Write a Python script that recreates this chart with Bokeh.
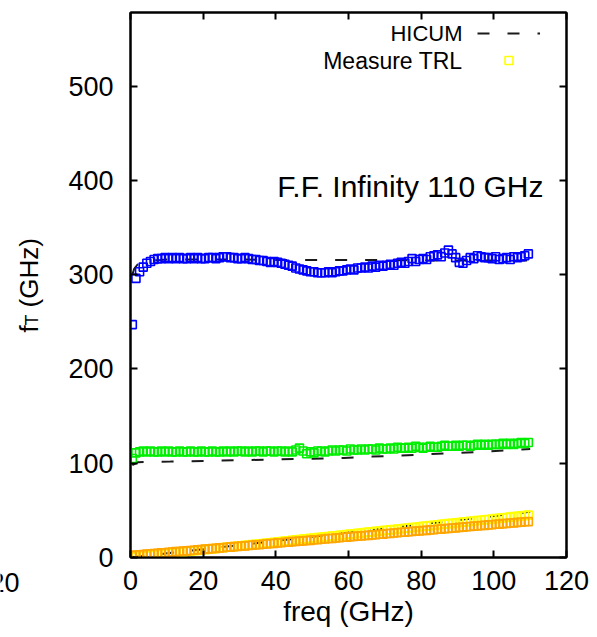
import math
from bokeh.plotting import figure
from bokeh.layouts import row
from bokeh.models import (LinearAxis, Range1d, FixedTicker, Label, Legend, LegendItem,
                          CustomJSTickFormatter)
from bokeh.embed import file_html
from bokeh.resources import INLINE

# ---------------- data ----------------
x_ticks = [0, 20, 40, 60, 80, 100, 120]
y_ticks = [0, 100, 200, 300, 400, 500]

# measurement sweep (GHz)
freq = [i + 0.5 for i in range(110)]

meas_blue = [247, 296, 303, 308, 312, 314, 316, 317, 317, 318,
             317, 318, 317, 318, 317, 317, 318, 317, 318, 317,
             317, 318, 318, 317, 318, 319, 319, 318, 318, 317,
             317, 318, 317, 316, 316, 315, 315, 314, 313, 314,
             313, 312, 311, 310, 309, 307, 306, 305, 304, 303,
             303, 302, 302, 302, 303, 302, 303, 304, 304, 305,
             306, 305, 307, 307, 308, 307, 309, 308, 310, 309,
             310, 311, 310, 312, 313, 312, 314, 317, 314, 316,
             317, 316, 319, 320, 321, 319, 323, 326, 322, 318,
             313, 312, 315, 318, 317, 320, 319, 318, 318, 317,
             319, 316, 317, 318, 316, 319, 318, 319, 320, 322]

meas_green = [105, 111, 112, 113, 112, 113, 112, 112, 113, 112,
              113, 112, 112, 113, 112, 112, 113, 112, 112, 113,
              112, 112, 113, 112, 112, 113, 112, 113, 112, 113,
              113, 112, 113, 112, 113, 113, 112, 113, 113, 112,
              113, 113, 112, 113, 112, 114, 116, 113, 110, 112,
              111, 113, 113, 112, 113, 114, 113, 114, 114, 113,
              115, 114, 114, 115, 114, 115, 115, 114, 116, 115,
              115, 116, 115, 117, 116, 116, 117, 116, 118, 117,
              116, 117, 118, 117, 117, 118, 119, 118, 118, 119,
              118, 119, 119, 118, 119, 120, 119, 120, 119, 120,
              120, 120, 121, 120, 121, 120, 121, 122, 121, 122]

meas_orange = [2.0, 2.6, 2.9, 3.1, 3.6, 3.7, 4.2, 4.4, 4.9, 5.0,
               5.6, 5.7, 6.2, 6.4, 6.9, 7.0, 7.5, 7.7, 8.2, 8.3,
               8.9, 9.0, 9.5, 9.7, 10.2, 10.3, 10.8, 11.0, 11.5, 11.6,
               12.2, 12.3, 12.8, 13.0, 13.5, 13.6, 14.1, 14.3, 14.8, 14.9,
               15.5, 15.6, 16.1, 16.3, 16.8, 16.9, 17.4, 17.6, 18.1, 18.2,
               18.8, 18.9, 19.4, 19.6, 20.1, 20.2, 20.7, 20.9, 21.4, 21.5,
               22.1, 22.2, 22.7, 22.9, 23.4, 23.5, 24.0, 24.2, 24.7, 24.8,
               25.4, 25.5, 26.0, 26.2, 26.7, 26.8, 27.3, 27.5, 28.0, 28.1,
               28.7, 28.8, 29.3, 29.5, 30.0, 30.1, 30.6, 30.8, 31.3, 31.4,
               32.0, 32.1, 32.6, 32.8, 33.3, 33.4, 33.9, 34.1, 34.6, 34.7,
               35.3, 35.4, 35.9, 36.1, 36.6, 36.7, 37.2, 37.4, 37.9, 38.1]

meas_yellow = [0.2, 0.7, 1.0, 1.5, 1.8, 2.3, 2.6, 3.1, 3.4, 3.9,
               4.3, 4.7, 5.1, 5.5, 5.9, 6.4, 6.7, 7.2, 7.5, 8.0,
               8.4, 8.8, 9.2, 9.6, 10.0, 10.5, 10.8, 11.3, 11.6, 12.1,
               12.5, 12.9, 13.3, 13.7, 14.1, 14.6, 14.9, 15.4, 15.7, 16.2,
               16.6, 17.0, 17.4, 17.8, 18.2, 18.7, 19.0, 19.5, 19.8, 20.3,
               20.7, 21.1, 21.5, 21.9, 22.3, 22.8, 23.1, 23.6, 23.9, 24.4,
               24.8, 25.2, 25.6, 26.0, 26.4, 26.9, 27.2, 27.7, 28.0, 28.5,
               28.9, 29.3, 29.7, 30.1, 30.5, 31.0, 31.3, 31.8, 32.1, 32.6,
               33.0, 33.4, 33.8, 34.2, 34.6, 35.1, 35.4, 35.9, 36.2, 36.7,
               37.1, 37.5, 37.9, 38.3, 38.7, 39.2, 39.5, 40.0, 40.3, 40.8,
               41.2, 41.6, 42.0, 42.4, 42.8, 43.3, 43.6, 44.1, 44.4, 44.9]

# HICUM simulation curves
hicum_top_f = [0.5, 1, 2, 3, 5, 8, 10, 20, 30, 40, 50, 60, 70, 80, 90, 100, 110]
hicum_top_v = [300, 306, 311, 313, 315, 315.5, 316, 316, 316, 315.5, 315.5, 315.5, 315.5, 315, 315, 315, 315]

hicum_mid_f = [0.5, 2, 5, 11, 20, 30, 40, 50, 58.7, 66.5, 74.3, 82.6, 90.3, 98.5, 106.4, 110]
hicum_mid_v = [98, 101, 101.5, 101.7, 102.4, 103.2, 104, 104.8, 105.6, 107, 108, 109.8, 110.9, 112.6, 114.4, 115.2]

hicum_low_f = [0.5, 10, 20, 30, 40, 50, 60, 70, 80, 90, 100, 110]
hicum_low_v = [0.2, 4.4, 8.8, 13.2, 17.6, 22.0, 26.4, 30.8, 35.2, 39.6, 44.0, 48.4]

FONT = "Liberation Sans"
TICK_FS = "27px"
LABEL_FS = "28px"

LEFT_W = 60
TOTAL_H = 636

# ---------------- main figure ----------------
p = figure(width=536, height=TOTAL_H, output_backend="svg", toolbar_location=None,
           x_range=Range1d(0, 120), y_range=Range1d(0, 578),
           x_axis_location=None, y_axis_location=None,
           min_border_left=70, min_border_right=30, min_border_top=12, min_border_bottom=79)
p.frame_align = False
p.grid.visible = False
p.outline_line_color = "black"
p.outline_line_width = 2
p.background_fill_color = "white"
p.border_fill_color = "white"


def make_axis(ticks, show_labels, standoff):
    ax = LinearAxis(ticker=FixedTicker(ticks=ticks))
    ax.major_tick_in = 7
    ax.major_tick_out = 0
    ax.major_tick_line_width = 2
    ax.minor_tick_line_color = None
    ax.axis_line_width = 2
    ax.axis_line_color = "black"
    ax.major_label_text_font = FONT
    ax.major_label_text_font_size = TICK_FS
    ax.major_label_text_color = "black"
    ax.major_label_standoff = standoff
    if not show_labels:
        ax.formatter = CustomJSTickFormatter(code="return ''")
        ax.major_label_standoff = 0
    return ax


xb = make_axis(x_ticks, True, 13)
xb.axis_label = "freq (GHz)"
xb.axis_label_text_font = FONT
xb.axis_label_text_font_size = LABEL_FS
xb.axis_label_text_font_style = "normal"
xb.axis_label_text_color = "black"
xb.axis_label_standoff = 3
p.add_layout(xb, "below")

yl = make_axis(y_ticks, True, 17)
p.add_layout(yl, "left")

p.add_layout(make_axis(x_ticks, False, 0), "above")
p.add_layout(make_axis(y_ticks, False, 0), "right")

DASH = "12 18"
HC = "#1a1a1a"
r_htop = p.line(hicum_top_f, hicum_top_v, line_color=HC, line_width=2, line_dash=DASH)
p.line(hicum_mid_f, hicum_mid_v, line_color=HC, line_width=2, line_dash=DASH)
p.line(hicum_low_f, hicum_low_v, line_color=HC, line_width=2, line_dash=DASH)

MS = 8
LW = 1.6
r_yel = p.scatter(freq, meas_yellow, marker="square", size=MS, fill_color=None,
                  line_color="#ffff00", line_width=LW)
p.scatter(freq, meas_orange, marker="square", size=MS, fill_color=None,
          line_color="#ffa500", line_width=LW)
p.scatter(freq, meas_green, marker="square", size=MS, fill_color=None,
          line_color="#00ee00", line_width=LW)
p.scatter(freq, meas_blue, marker="square", size=MS, fill_color=None,
          line_color="#0000ff", line_width=LW)

# legend samples (text is drawn to their left, gnuplot style)
legend = Legend(items=[LegendItem(label=" ", renderers=[r_htop]),
                       LegendItem(label=" ", renderers=[r_yel])],
                location=(347, 487), glyph_width=63, glyph_height=20,
                label_height=20, label_width=0, label_standoff=0,
                label_text_font_size="8px", spacing=7, padding=0, margin=0,
                border_line_color=None, background_fill_alpha=0)
p.add_layout(legend)

p.add_layout(Label(x=462 - 130, y=557 - 33, x_units="screen", y_units="screen",
                   text="HICUM", text_align="right", text_baseline="middle",
                   text_font=FONT, text_font_size="22px", text_color="black"))
p.add_layout(Label(x=462 - 130, y=557 - 60, x_units="screen", y_units="screen",
                   text="Measure TRL", text_align="right", text_baseline="middle",
                   text_font=FONT, text_font_size="23px", text_color="black"))

p.add_layout(Label(x=543 - 130, y=557 - 186, x_units="screen", y_units="screen",
                   text="F.F. Infinity 110 GHz", text_align="right", text_baseline="middle",
                   text_font=FONT, text_font_size="30px", text_color="black"))

# ---------------- left strip: y-axis title f_T (GHz) ----------------
q = figure(width=LEFT_W, height=TOTAL_H, output_backend="svg", toolbar_location=None,
           x_range=Range1d(0, LEFT_W), y_range=Range1d(0, TOTAL_H),
           x_axis_location=None, y_axis_location=None,
           min_border=0, min_border_left=0, min_border_right=0,
           min_border_top=0, min_border_bottom=0)
q.frame_align = False
q.grid.visible = False
q.outline_line_color = None
q.background_fill_color = "white"
q.border_fill_color = "white"

YL_X = 28
q.add_layout(Label(x=YL_X, y=TOTAL_H - 332, x_units="screen", y_units="screen",
                   text="f", angle=math.pi / 2, text_align="left", text_baseline="alphabetic",
                   text_font=FONT, text_font_size="26px", text_color="black"))
q.add_layout(Label(x=YL_X + 3, y=TOTAL_H - 325, x_units="screen", y_units="screen",
                   text="T", angle=math.pi / 2, text_align="left", text_baseline="alphabetic",
                   text_font=FONT, text_font_size="18px", text_color="black"))
q.add_layout(Label(x=YL_X, y=TOTAL_H - 307, x_units="screen", y_units="screen",
                   text="(GHz)", angle=math.pi / 2, text_align="left", text_baseline="alphabetic",
                   text_font=FONT, text_font_size="26px", text_color="black"))

# cut-off tick label of the neighbouring panel at the far left
q.add_layout(Label(x=19, y=TOTAL_H - 582, x_units="screen", y_units="screen",
                   text="120", text_align="right", text_baseline="middle",
                   text_font=FONT, text_font_size=TICK_FS, text_color="black"))

layout = row(q, p)
open("out.html", "w").write(file_html(layout, INLINE))
